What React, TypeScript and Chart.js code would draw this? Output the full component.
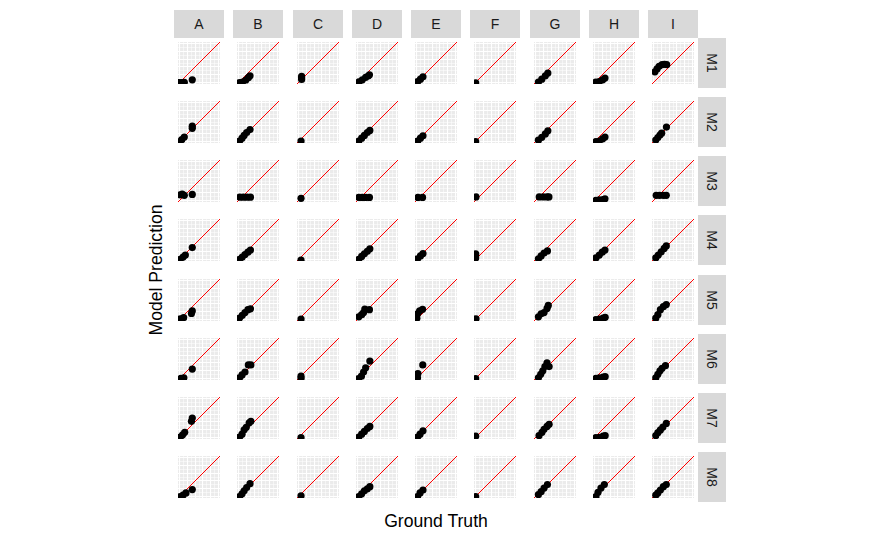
import React, { useEffect, useRef } from 'react';
import { Chart, registerables } from 'chart.js';

Chart.register(...registerables);

// ---- Data ----
const columns = ['A', 'B', 'C', 'D', 'E', 'F', 'G', 'H', 'I'];
const models = ['M1', 'M2', 'M3', 'M4', 'M5', 'M6', 'M7', 'M8'];

// each model: one list of [groundTruth, prediction] per column A..I
const M1 = [
  [[3, 3.5], [9, 3.5], [15, 4], [34, 10]],
  [[6, 3.4], [13, 4.7], [21, 9.5], [27, 15], [31, 19.6]],
  [[11, 11], [11, 14.5], [11, 18]],
  [[7, 5], [15, 10], [23, 16], [29, 19], [32, 22]],
  [[6.4, 6], [13, 11.5], [19, 17]],
  [[4, 3]],
  [[10.5, 4.7], [18.6, 11.5], [27, 19.6], [33, 26]],
  [[7, 4.7], [15, 6], [23, 10], [28.5, 14]],
  [[7, 29], [12, 36], [17, 42], [24, 46], [30, 47], [35, 46]],
];
const M2 = [
  [[4, 3], [9, 8], [15, 14], [34, 35], [34, 40]],
  [[6, 4.7], [12, 11.5], [17, 18], [23, 25], [31, 32]],
  [[9.6, 4.7]],
  [[6.6, 4.7], [13.5, 11.5], [20, 18], [27, 25], [33, 30]],
  [[6.4, 4.7], [13, 11.5], [19, 17]],
  [[4, 3.4]],
  [[10.5, 6.7], [18.6, 13.5], [27, 21.6], [33, 29]],
  [[7, 3.4], [15, 4.7], [23, 10], [28.5, 14]],
  [[9, 7], [14, 13], [19, 19], [23, 23.5], [34.4, 38]],
];
const M3 = [
  [[5, 17], [10, 19], [15, 16], [34, 18]],
  [[6.5, 11.5], [15, 11.5], [23.5, 11.5], [32, 11.5]],
  [[9.6, 8.8]],
  [[6.6, 10.8], [14.7, 10.8], [23, 10.8], [32, 10.8]],
  [[7, 10.8], [18, 10.8]],
  [[4.7, 12]],
  [[12.5, 12], [22, 12], [31, 12], [35.5, 12]],
  [[7, 4], [15, 5], [24, 6], [28.5, 7.5]],
  [[10, 16], [18, 16], [27, 16], [34, 16]],
];
const M4 = [
  [[5.4, 4], [12, 9.5], [17.5, 14], [34, 32]],
  [[6, 4], [12.5, 9.5], [19, 15.5], [26, 21], [32, 26]],
  [[9.6, 2]],
  [[6.6, 4], [13.5, 10.8], [20, 17], [27, 23], [33, 29]],
  [[6, 5.4], [13, 12], [19, 17.6]],
  [[4, 7], [4, 13], [4, 17]],
  [[10.5, 5.4], [17, 12], [24, 19], [32, 24]],
  [[7, 7.4], [15, 14], [22, 21], [28.5, 26]],
  [[9, 7.4], [15, 14], [22, 22], [29, 30], [34, 36]],
];
const M5 = [
  [[5.4, 5.4], [13.5, 8], [32, 18], [34, 24]],
  [[6, 7], [12.5, 13.5], [19, 20], [26, 27], [32, 29]],
  [[9.6, 4.7]],
  [[6.6, 10], [13.5, 15], [18, 20], [21, 28.4], [32, 27]],
  [[4.5, 6.8], [6, 17], [11, 24], [18, 28]],
  [[4.7, 5.4]],
  [[10.5, 10], [17, 17], [24, 20], [31, 30], [34, 37]],
  [[7, 3.4], [15, 4.7], [24, 6.8], [29, 8.8]],
  [[9, 6.8], [14, 15], [20, 27], [27, 34], [34, 39]],
];
const M6 = [
  [[7, 4], [14, 5.4], [34, 26]],
  [[6, 5.4], [12, 12], [19, 19], [27, 36], [33, 36]],
  [[9.6, 4], [9.6, 9]],
  [[6, 3.4], [13, 9], [18, 19], [23, 29], [33, 45]],
  [[6, 5.4], [7, 15.5], [18.5, 36]],
  [[4, 3.4]],
  [[10.5, 5.4], [16, 13.5], [21, 22], [26, 32], [31, 41], [36, 32]],
  [[7, 4], [15, 5.4], [24, 6.8], [29, 8]],
  [[9, 5.4], [14, 13.5], [19, 22], [24, 28], [32, 34]],
];
const M7 = [
  [[5.4, 4.7], [11, 10], [16, 16], [32, 42], [34, 50]],
  [[6, 4.7], [12, 11.5], [17, 22], [22, 28], [29, 38.5], [33, 42]],
  [[9.6, 3.4]],
  [[6.6, 4.7], [13.5, 11.5], [20, 18], [27, 25], [33, 30]],
  [[6, 4.7], [12, 11.5], [19, 19.6]],
  [[4, 6.8]],
  [[12, 8], [19, 16], [24, 23], [31, 30], [36, 35]],
  [[7, 3.4], [15, 4], [24, 6.8], [29, 8]],
  [[9, 8], [14, 15], [20, 21.6], [26, 28.4], [34, 37]],
];
const M8 = [
  [[5.4, 3.4], [12, 6.8], [19, 12], [34, 20]],
  [[6, 3.4], [12, 10], [17, 17], [23, 25], [31, 34]],
  [[9.6, 5.4]],
  [[6.6, 3.4], [13.5, 10], [20, 17], [27, 22], [33, 27]],
  [[6, 3.4], [12, 12], [19, 19]],
  [[4, 3.4]],
  [[10.5, 8], [17, 15], [24, 23.6], [32, 32]],
  [[7, 3.4], [12, 13.5], [19, 23.6], [27, 32]],
  [[9, 6.8], [14, 12], [20, 19], [27, 27], [34, 32]],
];
const modelPoints = [M1, M2, M3, M4, M5, M6, M7, M8];

const axisRange = [0, 100];
const identityLine = [0, 100];
const gridValues = [4.55, 13.64, 22.73, 31.82, 40.91, 50, 59.09, 68.18, 77.27, 86.36, 95.45];
const gridMajor = [true, false, true, false, true, false, true, false, true, false, true];

// ---- Layout ----
const PANEL = 50;
const PITCH = 59.25;
const LEFT0 = 174;
const TOP0 = 37.5;
const STRIP = 28;
const FONT = '"Liberation Sans", Arial, Helvetica, sans-serif';

const colLeft = (c: number) => Math.round(LEFT0 + PITCH * c);
const rowTop = (r: number) => Math.round(TOP0 + PITCH * r);

const bgPlugin = {
  id: 'panelBg',
  beforeDraw(chart: any) {
    const { ctx, chartArea } = chart;
    ctx.save();
    ctx.fillStyle = '#EBEBEB';
    ctx.fillRect(chartArea.left, chartArea.top, chartArea.width, chartArea.height);
    ctx.restore();
  },
};

function makeAxis() {
  return {
    type: 'linear' as const,
    min: axisRange[0],
    max: axisRange[1],
    ticks: { display: false },
    grid: {
      color: '#FFFFFF',
      lineWidth: (ctx: any) => (gridMajor[ctx.index] ? 1.07 : 0.53),
      drawTicks: false,
      tickLength: 0,
    },
    border: { display: false },
    afterBuildTicks: (axis: any) => {
      axis.ticks = gridValues.map((v) => ({ value: v }));
    },
  };
}

function Panel({ points, left, top }: { points: number[][]; left: number; top: number }) {
  const ref = useRef<HTMLCanvasElement | null>(null);
  useEffect(() => {
    if (!ref.current) return;
    const line = identityLine.map((v) => ({ x: v, y: v }));
    const chart = new Chart(ref.current, {
      type: 'scatter',
      data: {
        datasets: [
          {
            type: 'scatter',
            data: points.map(([x, y]) => ({ x, y })),
            pointRadius: 3.6,
            pointBackgroundColor: '#000000',
            pointBorderWidth: 0,
            clip: 0,
            order: 0,
          } as any,
          {
            type: 'line',
            data: line,
            borderColor: '#FF0000',
            borderWidth: 1,
            pointRadius: 0,
            clip: 0,
            order: 1,
          } as any,
          {
            type: 'line',
            data: line,
            borderColor: '#000000',
            borderWidth: 1,
            pointRadius: 0,
            clip: 0,
            order: 2,
          } as any,
        ],
      },
      options: {
        animation: false,
        responsive: false,
        maintainAspectRatio: false,
        events: [],
        layout: { padding: 0 },
        plugins: { legend: { display: false }, tooltip: { enabled: false } },
        scales: { x: makeAxis() as any, y: makeAxis() as any },
      },
      plugins: [bgPlugin],
    });
    return () => chart.destroy();
  }, [points]);
  return (
    <canvas
      ref={ref}
      width={PANEL}
      height={PANEL}
      style={{ position: 'absolute', left, top, width: PANEL, height: PANEL }}
    />
  );
}

export default function App() {
  const lastLeft = colLeft(columns.length - 1) + PANEL;
  return (
    <div
      style={{
        position: 'absolute',
        left: 0,
        top: 0,
        width: 875,
        height: 540,
        background: '#FFFFFF',
        overflow: 'hidden',
        fontFamily: FONT,
      }}
    >
      {columns.map((c, ci) => (
        <div
          key={'s' + c}
          style={{
            position: 'absolute',
            left: colLeft(ci),
            top: rowTop(0) - STRIP,
            width: PANEL,
            height: STRIP,
            background: '#D9D9D9',
            color: '#1A1A1A',
            fontSize: 14,
            display: 'flex',
            alignItems: 'center',
            justifyContent: 'center',
          }}
        >
          {c}
        </div>
      ))}
      {models.map((m, ri) => (
        <div
          key={'r' + m}
          style={{
            position: 'absolute',
            left: lastLeft,
            top: rowTop(ri),
            width: STRIP,
            height: PANEL,
            background: '#D9D9D9',
            color: '#1A1A1A',
            fontSize: 14,
            display: 'flex',
            alignItems: 'center',
            justifyContent: 'center',
          }}
        >
          <span style={{ display: 'inline-block', transform: 'rotate(90deg)', whiteSpace: 'nowrap' }}>{m}</span>
        </div>
      ))}
      {models.map((m, ri) =>
        columns.map((c, ci) => (
          <Panel key={m + c} points={modelPoints[ri][ci]} left={colLeft(ci)} top={rowTop(ri)} />
        ))
      )}
      <div
        style={{
          position: 'absolute',
          left: 155.5,
          top: 270,
          transform: 'translate(-50%, -50%) rotate(-90deg)',
          fontSize: 17.6,
          color: '#000000',
          whiteSpace: 'nowrap',
        }}
      >
        Model Prediction
      </div>
      <div
        style={{
          position: 'absolute',
          left: (LEFT0 + lastLeft) / 2,
          top: 521,
          transform: 'translate(-50%, -50%)',
          fontSize: 17.6,
          color: '#000000',
          whiteSpace: 'nowrap',
        }}
      >
        Ground Truth
      </div>
    </div>
  );
}
